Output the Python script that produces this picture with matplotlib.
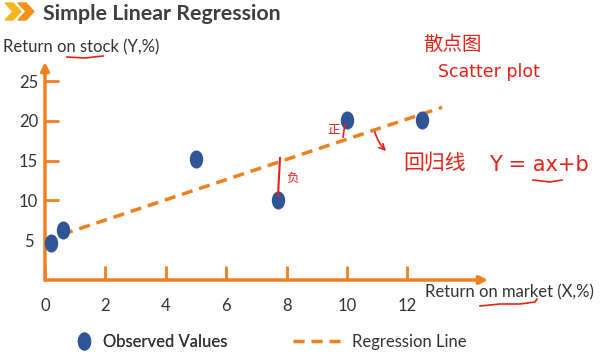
import matplotlib
matplotlib.use("Agg")
import matplotlib.pyplot as plt
from matplotlib.path import Path
from matplotlib.patches import Polygon, FancyArrowPatch
from matplotlib.lines import Line2D
import numpy as np

# ---- data ----
x_obs = [0.2, 0.6, 5.0, 7.7, 10.0, 12.5]
y_obs = [4.7, 6.3, 15.2, 10.0, 20.1, 20.1]
reg_intercept = 5.0
reg_slope = 1.27
reg_x = [0.0, 13.15]
x_ticks = [0, 2, 4, 6, 8, 10, 12]
y_ticks = [10, 15, 20, 25]
y_extra_label = [5]
title = "Simple Linear Regression"
ylabel = "Return on stock (Y,%)"
xlabel = "Return on market (X,%)"
legend_labels = ["Observed Values", "Regression Line"]

W, H = 602, 359
ORANGE = "#F0801E"
BLUE = "#2F5597"
RED = "#E62117"
TXT = "#333333"

plt.rcParams["font.family"] = ["Lato", "DejaVu Sans"]

def fx(x):
    return x / W

def fy(y):
    return 1 - y / H

fig = plt.figure(figsize=(6.02, 3.59), dpi=100)
ax = fig.add_axes([fx(45), fy(280), (488 - 45) / W, (280 - 62) / H])
ax.set_xlim(0, 14.67)
ax.set_ylim(0, 27.4)
for s in ax.spines.values():
    s.set_visible(False)

# axes with arrows
arrow_kw = dict(arrowstyle="-|>", color=ORANGE, lw=2.5, mutation_scale=12,
                shrinkA=0, shrinkB=0)
ax.annotate("", xy=(1, 0), xytext=(0, 0), xycoords="axes fraction",
            arrowprops=arrow_kw, annotation_clip=False)
ax.annotate("", xy=(0, 1), xytext=(0, 0), xycoords="axes fraction",
            arrowprops=arrow_kw, annotation_clip=False)

ax.set_xticks(x_ticks)
ax.set_xticklabels([str(t) for t in x_ticks])
ax.set_yticks(y_ticks)
ax.set_yticklabels([str(t) for t in y_ticks])
ax.set_yticks(y_extra_label, minor=True)
ax.set_yticklabels([str(t) for t in y_extra_label], minor=True)
ax.tick_params(axis="x", direction="in", length=10, width=2, color=ORANGE,
               pad=13, labelsize=12, labelcolor=TXT)
ax.tick_params(axis="y", which="major", direction="in", length=10, width=2,
               color=ORANGE, pad=5, labelsize=12, labelcolor=TXT)
ax.tick_params(axis="y", which="minor", length=0, pad=8, labelsize=12,
               labelcolor=TXT)

# regression line
reg_y = [reg_intercept + reg_slope * v for v in reg_x]
ax.plot(reg_x, reg_y, color=ORANGE, lw=2.5, dashes=(3.2, 2.0),
        solid_capstyle="butt", dash_capstyle="butt", clip_on=False, zorder=3)

# observed points (ellipse markers)
circ = Path.unit_circle()
ell = Path(circ.vertices * np.array([0.72, 1.0]), circ.codes)
ax.plot(x_obs, y_obs, linestyle="none", marker=ell, ms=12, color=BLUE,
        mec=BLUE, clip_on=False, zorder=4)

# title & chevrons
fig.text(fx(43), fy(14), title, fontsize=15.4, fontweight="bold",
         color="#3F3F3F", va="center", ha="left")
def chevron(x0, color):
    pts = [(x0, 3), (x0 + 8, 3), (x0 + 16, 11.5), (x0 + 8, 20), (x0, 20),
           (x0 + 8, 11.5)]
    fig.patches.append(Polygon([(fx(a), fy(b)) for a, b in pts], closed=True,
                               transform=fig.transFigure, color=color))
chevron(5, "#F7B51D")
chevron(18, "#F39019")

# axis labels
fig.text(fx(3), fy(47), ylabel, fontsize=12, color=TXT, va="center", ha="left")
fig.text(fx(425), fy(292), xlabel, fontsize=12, color=TXT, va="center",
         ha="left")

# legends
h1 = Line2D([], [], linestyle="none", marker=ell, ms=12, color=BLUE)
h2 = Line2D([], [], color=ORANGE, lw=2.5, dashes=(3.2, 2.0))
leg1 = fig.legend([h1], [legend_labels[0]], loc="center left",
                  bbox_to_anchor=(fx(74), fy(342)), frameon=False,
                  handlelength=1.2, handletextpad=0.54, borderpad=0,
                  borderaxespad=0, fontsize=12, labelcolor=TXT)
fig.add_artist(leg1)
fig.legend([h2], [legend_labels[1]], loc="center left",
           bbox_to_anchor=(fx(293), fy(342)), frameon=False,
           handlelength=2.82, handletextpad=0.72, borderpad=0,
           borderaxespad=0, fontsize=12, labelcolor=TXT)

# handwritten red annotations
cjk = ["Noto Sans CJK SC", "DejaVu Sans"]
fig.text(fx(452), fy(44), "散点图", fontsize=14, color=RED, family=cjk,
         ha="center", va="center")
fig.text(fx(489), fy(72), "Scatter plot", fontsize=12.5, color=RED,
         family=["DejaVu Sans"], ha="center", va="center")
fig.text(fx(435), fy(163), "回归线", fontsize=15, color=RED, family=cjk,
         ha="center", va="center")
fig.text(fx(539), fy(165), "Y = ax+b", fontsize=15, color=RED,
         family=["DejaVu Sans"], ha="center", va="center")
fig.text(fx(334), fy(130), "正", fontsize=9, color=RED, family=cjk,
         ha="center", va="center")
fig.text(fx(293), fy(178), "负", fontsize=9, color=RED, family=cjk,
         ha="center", va="center")

def red_line(pts, lw=1.2):
    fig.add_artist(Line2D([fx(a) for a, b in pts], [fy(b) for a, b in pts],
                          color=RED, lw=lw, transform=fig.transFigure))

red_line([(67, 57), (85, 58), (103, 56)])
red_line([(480, 306), (500, 304), (520, 304), (535, 302), (537, 299)])
red_line([(280, 158), (278, 196)], lw=1.5)
red_line([(345, 124), (343, 137)])
red_line([(533, 180), (550, 182), (562, 180)])
fig.add_artist(FancyArrowPatch((fx(374), fy(129)), (fx(388), fy(153)),
                               transform=fig.transFigure, arrowstyle="->",
                               color=RED, lw=1.2, mutation_scale=10,
                               connectionstyle="arc3,rad=0.15"))

fig.savefig("out.png", dpi=100)
